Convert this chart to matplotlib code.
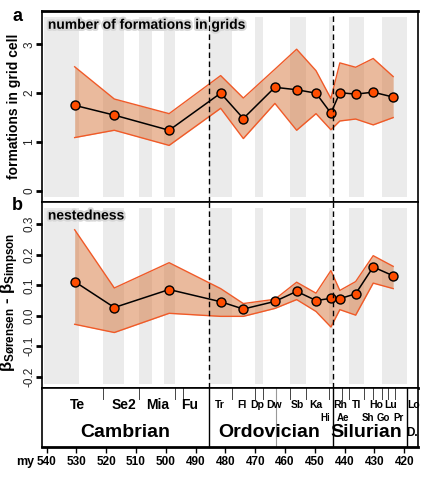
import matplotlib
matplotlib.use("Agg")
import matplotlib.pyplot as plt
import matplotlib.patheffects as pe

plt.rcParams['font.family'] = ['Liberation Sans', 'DejaVu Sans']
plt.rcParams['font.weight'] = 'bold'
plt.rcParams['mathtext.fontset'] = 'custom'
plt.rcParams['mathtext.rm'] = 'Liberation Sans:bold'
plt.rcParams['mathtext.it'] = 'Liberation Sans:bold'
plt.rcParams['mathtext.bf'] = 'Liberation Sans:bold'

# ages (my) of the bins
ages = [530.6, 517.3, 498.9, 481.6, 474.0, 463.4, 456.1, 449.6, 444.6, 441.6, 436.3, 430.4, 423.7]

# panel a: number of formations in grid cell
form_mean = [1.75, 1.55, 1.24, 2.00, 1.48, 2.12, 2.07, 2.00, 1.59, 2.01, 1.98, 2.02, 1.92]
form_hi = [2.54, 1.88, 1.58, 2.36, 1.90, 2.49, 2.90, 2.46, 1.89, 2.62, 2.53, 2.71, 2.34]
form_lo = [1.09, 1.24, 0.93, 1.69, 1.07, 1.79, 1.24, 1.58, 1.25, 1.43, 1.47, 1.35, 1.50]

# panel b: nestedness
nest_mean = [0.112, 0.027, 0.086, 0.046, 0.022, 0.047, 0.080, 0.050, 0.057, 0.056, 0.072, 0.160, 0.131]
nest_hi = [0.282, 0.091, 0.174, 0.089, 0.040, 0.054, 0.110, 0.074, 0.148, 0.083, 0.112, 0.197, 0.162]
nest_lo = [-0.028, -0.055, 0.008, -0.002, -0.002, 0.024, 0.053, 0.014, -0.037, 0.020, 0.002, 0.107, 0.089]

# gray bands (start, end)
bands = [(541, 529), (521, 514), (509, 504.5), (500.5, 497), (485.4, 477.7), (470, 467.3),
         (458.4, 453), (445.2, 443.8), (438.5, 433.4), (427.4, 419.2)]

# time scale
period_bounds = [485.4, 443.8, 419.2]
stage_ticks = [521, 509, 497, 494.2, 477.7, 470, 467.3, 458.4, 453, 445.2,
               440.8, 438.5, 433.4, 430.5, 427.4, 425.6, 423]
series_labels = [('Te', 529.8), ('Se2', 514.1), ('Mia', 502.6), ('Fu', 491.9)]
upper_labels = [('Tr', 481.8), ('Fl', 474.5), ('Dp', 469.2), ('Dw', 463.7),
                ('Sb', 455.8), ('Ka', 449.6), ('Rh', 441.5), ('Tl', 436.0),
                ('Ho', 429.3), ('Lu', 424.6), ('Lo', 417.0)]
lower_labels = [('Hi', 446.6), ('Ae', 440.5), ('Sh', 432.1), ('Go', 427.0), ('Pr', 421.9)]
periods = [('Cambrian', 513.5), ('Ordovician', 465.2), ('Silurian', 432.8)]

xlim = (541.5, 415.3)
fill_col = '#D7773D'
edge_col = '#F05A28'
pt_col = '#FF4D00'

fig = plt.figure(figsize=(4.22, 4.84), dpi=100)
L, R = 0.1, 0.991
ax1 = fig.add_axes([L, 0.5826, R - L, 0.977 - 0.5826])
ax2 = fig.add_axes([L, 0.1977, R - L, 0.5826 - 0.1977])
ax3 = fig.add_axes([L, 0.0771, R - L, 0.1977 - 0.0771])

halo = [pe.withStroke(linewidth=3, foreground='#d8d8d8')]

def panel(ax, mean, hi, lo, ylim, yticks, ylabs, title):
    ax.set_xlim(xlim)
    ax.set_ylim(ylim)
    for a, b in bands:
        ax.axvspan(a, b, ymin=0.025, ymax=0.97, color='#ebebeb', lw=0, zorder=0)
    ax.fill_between(ages, lo, hi, color=fill_col, alpha=0.5, lw=0, zorder=1)
    ax.plot(ages, hi, color=edge_col, lw=1, zorder=2)
    ax.plot(ages, lo, color=edge_col, lw=1, zorder=2)
    ax.plot(ages, mean, color='black', lw=1.1, zorder=3)
    ax.scatter(ages, mean, s=42, color=pt_col, edgecolor='black', lw=1, zorder=4)
    for b in period_bounds[:2]:
        ax.axvline(b, color='black', ls=(0, (4, 2.5)), lw=1, zorder=5)
    ax.set_xticks([])
    ax.set_yticks(yticks)
    ax.set_yticklabels(ylabs, rotation=90, va='center',
                       fontsize=8.5, fontweight='normal', color='#222222')
    ax.tick_params(axis='y', direction='out', length=4, width=2, pad=1)
    for s in ax.spines.values():
        s.set_linewidth(1.2)
    ax.text(0.015, 0.965, title, transform=ax.transAxes, fontsize=10, fontweight='bold',
            va='top', ha='left', path_effects=halo, zorder=6)

panel(ax1, form_mean, form_hi, form_lo, (-0.23, 3.68), [0, 1, 2, 3],
      ['0', '1', '2', '3'], 'number of formations in grids')
panel(ax2, nest_mean, nest_hi, nest_lo, (-0.238, 0.373), [-0.2, -0.1, 0.0, 0.1, 0.2, 0.3],
      ['-0.2', '-0.1', '0.0', '0.1', '0.2', '0.3'], 'nestedness')
ax1.spines['top'].set_linewidth(2)
ax2.spines['bottom'].set_linewidth(2)

ax1.set_ylabel('formations in grid cell', fontsize=10, fontweight='bold')
ax1.yaxis.set_label_coords(-0.056, 0.5)
ax2.set_ylabel('β$_{\\mathrm{Sørensen}}$ - β$_{\\mathrm{Simpson}}$', fontsize=12,
               fontweight='bold')
ax2.yaxis.set_label_coords(-0.056, 0.46)
fig.text(0.042, 0.965, 'a', fontsize=13, fontweight='bold', ha='center', va='center')
fig.text(0.042, 0.575, 'b', fontsize=13, fontweight='bold', ha='center', va='center')

# time scale
ax3.set_xlim(xlim)
ax3.set_ylim(0, 1)
ax3.set_yticks([])
for b in period_bounds:
    ax3.axvline(b, color='black', lw=1, zorder=2)
ax3.axvline(463.0, color='#999999', lw=0.8, zorder=1)
for t in stage_ticks:
    ax3.plot([t, t], [1, 0.82], color='#444444', lw=0.7)
for name, x in series_labels:
    ax3.text(x, 0.72, name, ha='center', va='center', fontsize=10, fontweight='bold')
for name, x in upper_labels:
    ax3.text(x, 0.72, name, ha='center', va='center', fontsize=7.5, fontweight='bold')
for name, x in lower_labels:
    ax3.text(x, 0.49, name, ha='center', va='center', fontsize=7, fontweight='bold')
for name, x in periods:
    ax3.text(x, 0.235, name, ha='center', va='center', fontsize=14, fontweight='bold')
ax3.text(417.3, 0.235, 'D.', ha='center', va='center', fontsize=8.5, fontweight='bold')
ax3.set_xticks(range(540, 415, -10))
ax3.set_xticklabels([str(v) for v in range(540, 415, -10)], fontsize=8.5, fontweight='bold')
ax3.tick_params(axis='x', direction='out', length=4, width=1, pad=3)
for s in ax3.spines.values():
    s.set_linewidth(1.2)
ax3.spines['bottom'].set_linewidth(2)
fig.text(0.06, 0.045, 'my', fontsize=9, fontweight='bold', ha='center', va='center')

fig.savefig('out.png', dpi=100)
